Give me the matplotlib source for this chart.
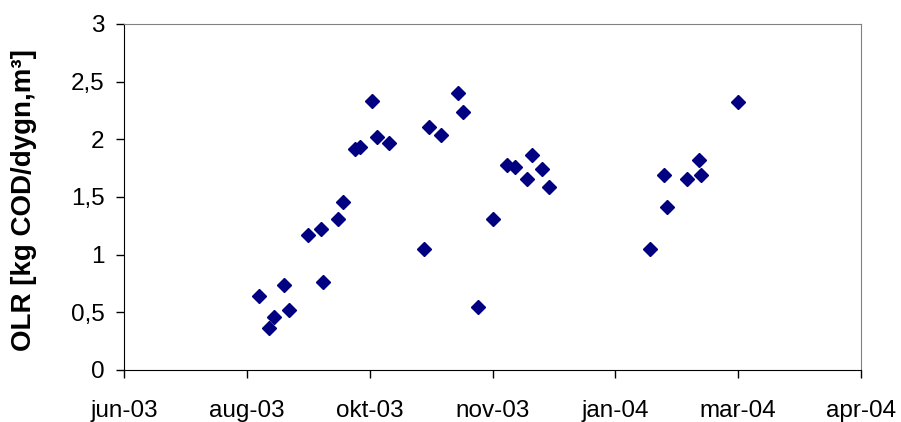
import matplotlib
matplotlib.use('Agg')
import matplotlib.pyplot as plt
import matplotlib.dates as mdates
from matplotlib.ticker import FuncFormatter
import datetime as dt

# Measurement dates and organic loading rate
dates = ['2003-08-22', '2003-08-26', '2003-08-28', '2003-09-01', '2003-09-03',
         '2003-09-11', '2003-09-16', '2003-09-17', '2003-09-23', '2003-09-25',
         '2003-09-30', '2003-10-02', '2003-10-07', '2003-10-09', '2003-10-14',
         '2003-10-28', '2003-10-30', '2003-11-04', '2003-11-11', '2003-11-13',
         '2003-11-19', '2003-11-25', '2003-12-01', '2003-12-04', '2003-12-09',
         '2003-12-11', '2003-12-15', '2003-12-18', '2004-01-28', '2004-02-03',
         '2004-02-04', '2004-02-12', '2004-02-17', '2004-02-18', '2004-03-04']
olr = [0.64, 0.36, 0.46, 0.74, 0.52,
       1.17, 1.22, 0.76, 1.31, 1.46,
       1.92, 1.93, 2.33, 2.02, 1.97,
       1.05, 2.11, 2.04, 2.40, 2.24,
       0.55, 1.31, 1.78, 1.76, 1.66,
       1.86, 1.74, 1.59, 1.05, 1.69,
       1.41, 1.66, 1.82, 1.69, 2.32]

# Excel style date axis: start 2003-06-28, major unit 50 days
x_start = dt.date(2003, 6, 28)
x_step = 50
n_ticks = 7
months_sv = ['jan', 'feb', 'mar', 'apr', 'maj', 'jun',
             'jul', 'aug', 'sep', 'okt', 'nov', 'dec']

x = [dt.datetime.strptime(d, '%Y-%m-%d') for d in dates]
ticks = [x_start + dt.timedelta(days=x_step * i) for i in range(n_ticks)]

plt.rcParams['font.family'] = ['Liberation Sans', 'DejaVu Sans']

fig = plt.figure(figsize=(9.01, 4.22), dpi=100)
ax = fig.add_axes([124/901, 52/422, 737/901, 346/422])

ax.plot(x, olr, linestyle='none', marker='D', markersize=7.6,
        color='#000080', markeredgecolor='#000080')

ax.set_xlim(ticks[0], ticks[-1])
ax.set_xticks(ticks)
def fmt_date(val, pos):
    d = mdates.num2date(val)
    return months_sv[d.month - 1] + '-' + d.strftime('%y')
ax.xaxis.set_major_formatter(FuncFormatter(fmt_date))

ax.set_ylim(0, 3)
ax.set_yticks([0, 0.5, 1, 1.5, 2, 2.5, 3])
ax.yaxis.set_major_formatter(FuncFormatter(lambda v, p: ('%g' % v).replace('.', ',')))

ax.set_ylabel('OLR [kg COD/dygn,m³]', fontsize=20, fontweight='bold')
ax.yaxis.set_label_coords(-0.118, 0.49)
ax.tick_params(axis='both', labelsize=17.5, direction='out', length=5.5, width=1, color='black')
ax.tick_params(axis='y', pad=8.5)
ax.tick_params(axis='x', pad=16)

for s in ['top', 'right']:
    ax.spines[s].set_color('#808080')
for s in ['left', 'bottom']:
    ax.spines[s].set_color('black')

plt.savefig('out.png', dpi=100)
